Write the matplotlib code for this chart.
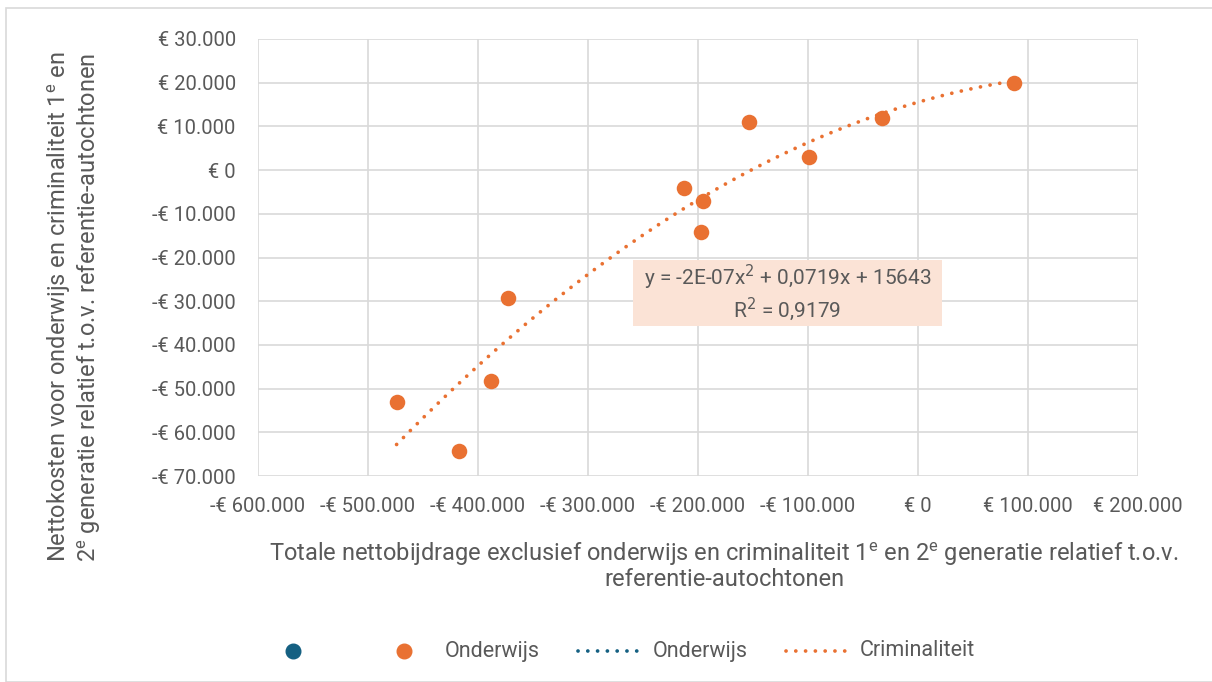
import numpy as np
import matplotlib
matplotlib.use("Agg")
import matplotlib.pyplot as plt
from matplotlib.ticker import FuncFormatter, MultipleLocator
from matplotlib.lines import Line2D
from matplotlib.patches import Rectangle

plt.rcParams['font.family'] = ['Roboto', 'DejaVu Sans']

# Data
x_vals = [-474000, -417000, -388000, -373000, -213000, -195500, -197000, -153600, -99000, -33000, 87000]
y_vals = [-53000, -64300, -48200, -29200, -4100, -7100, -14200, 11000, 3000, 11900, 20000]

equation_text = "y = -2E-07x$^2$ + 0,0719x + 15643\nR$^2$ = 0,9179"
x_label = "Totale nettobijdrage exclusief onderwijs en criminaliteit 1$^{\\mathregular{e}}$ en 2$^{\\mathregular{e}}$ generatie relatief t.o.v.\nreferentie-autochtonen"
y_label = "Nettokosten voor onderwijs en criminaliteit 1$^{\\mathregular{e}}$ en\n2$^{\\mathregular{e}}$ generatie relatief t.o.v. referentie-autochtonen"
legend_labels = ["", "Onderwijs", "Onderwijs", "Criminaliteit"]

BLUE = "#156082"
ORANGE = "#E97132"
GRAY = "#595959"
GRID = "#D9D9D9"
DOTS = (0, (0.01, 2.6))
LW = 2.7

W, H = 1212, 682
def fx(px): return px / W
def fy(py): return 1 - py / H

fig = plt.figure(figsize=(12.12, 6.82), dpi=100)
fig.patches.append(Rectangle((fx(6), 0), 1.2, fy(8), transform=fig.transFigure,
                             fill=False, edgecolor="#D9D9D9", lw=1.2))
ax = fig.add_axes([fx(258), fy(476), (1138 - 258) / W, (476 - 39) / H])

ax.set_xlim(-600000, 200000)
ax.set_ylim(-70000, 30000)
ax.xaxis.set_major_locator(MultipleLocator(100000))
ax.yaxis.set_major_locator(MultipleLocator(10000))

def euro(v, pos):
    v = int(round(v))
    s = f"{abs(v):,}".replace(",", ".")
    return ("-€ " if v < 0 else "€ ") + s

ax.xaxis.set_major_formatter(FuncFormatter(euro))
ax.yaxis.set_major_formatter(FuncFormatter(euro))
ax.grid(True, color=GRID, lw=1.2)
ax.set_axisbelow(True)
for s in ax.spines.values():
    s.set_visible(False)
ax.tick_params(axis="y", length=0, colors=GRAY, labelsize=14.5, pad=16)
ax.tick_params(axis="x", length=0, colors=GRAY, labelsize=14.5, pad=15)

# Trendline (polynomial order 2 fitted to the data)
coef = np.polyfit(x_vals, y_vals, 2)
xt = np.linspace(min(x_vals), max(x_vals), 300)
ax.plot(xt, np.polyval(coef, xt), color=ORANGE, lw=LW, linestyle=DOTS,
        dash_capstyle="round", zorder=3)

ax.scatter(x_vals, y_vals, s=125, color=ORANGE, zorder=4, linewidths=0)

# Equation box
fig.patches.append(Rectangle((fx(633), fy(326)), (942 - 633) / W, (326 - 260) / H,
                             transform=fig.transFigure, facecolor="#FBE3D6",
                             edgecolor="none", zorder=5))
fig.text(fx(787.5), fy(293), equation_text, ha="center", va="center", fontsize=15,
         color=GRAY, linespacing=1.15, multialignment="center", zorder=6)

fig.text(fx(724), fy(566), x_label, ha="center", va="center", fontsize=17,
         color=GRAY, linespacing=1.0, multialignment="center")
fig.text(fx(74), fy(307), y_label, rotation=90, ha="center", va="center",
         fontsize=17, color=GRAY, linespacing=1.1, multialignment="center")

# Legend (drawn manually to match spacing)
ly = fy(651)
fig.add_artist(Line2D([fx(293)], [ly], marker="o", linestyle="none", color=BLUE,
                      markersize=10.5, transform=fig.transFigure))
fig.add_artist(Line2D([fx(404)], [ly], marker="o", linestyle="none", color=ORANGE,
                      markersize=10.5, transform=fig.transFigure))
fig.add_artist(Line2D([fx(578), fx(637)], [ly, ly], color=BLUE, lw=LW, linestyle=DOTS,
                      dash_capstyle="round", transform=fig.transFigure))
fig.add_artist(Line2D([fx(786), fx(853)], [ly, ly], color=ORANGE, lw=LW, linestyle=DOTS,
                      dash_capstyle="round", transform=fig.transFigure))
for xpos, lab in zip([None, 445, 653, 860], legend_labels):
    if xpos is None:
        continue
    fig.text(fx(xpos), ly, lab, ha="left", va="center", fontsize=15.5, color=GRAY)

fig.savefig("out.png", dpi=100)
